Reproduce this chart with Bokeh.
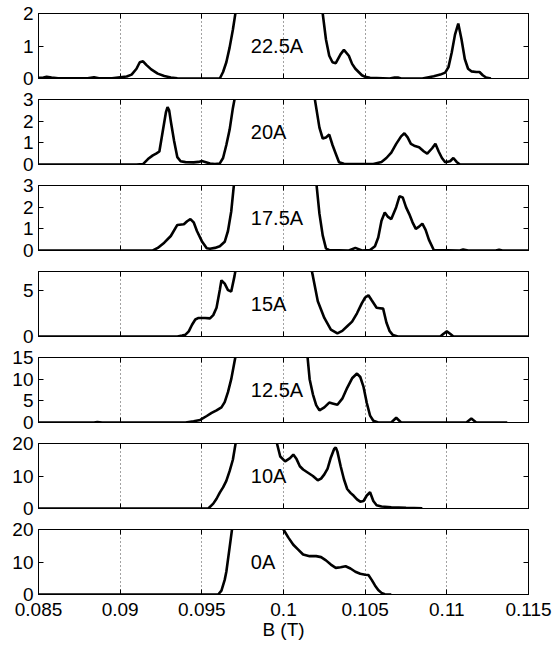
from bokeh.plotting import figure
from bokeh.layouts import column
from bokeh.models import FixedTicker, LinearAxis, Range1d, Grid
from bokeh.embed import file_html
from bokeh.resources import INLINE
from bokeh.core.properties import value

# ---------------- data ----------------
panel_labels = ["22.5A", "20A", "17.5A", "15A", "12.5A", "10A", "0A"]
panel_ymax = [2, 3, 3, 7, 15, 20, 20]
panel_yticks = [[0, 1, 2], [0, 1, 2, 3], [0, 1, 2, 3], [0, 5],
                [0, 5, 10, 15], [0, 10, 20], [0, 10, 20]]

xtick_vals = [0.085, 0.09, 0.095, 0.1, 0.105, 0.11, 0.115]
xtick_labels = ["0.085", "0.09", "0.095", "0.1", "0.105", "0.11", "0.115"]
grid_vals = [0.09, 0.095, 0.1, 0.105, 0.11]
x_label = "B (T)"

x_225 = [0.0850, 0.0853, 0.0855, 0.0858, 0.0862, 0.0880, 0.0884, 0.0887, 0.0895, 0.0900,
         0.0904, 0.0907, 0.0910, 0.0912, 0.0914, 0.0916, 0.0919, 0.0923, 0.0927, 0.0931,
         0.0935, 0.0950, 0.0961, 0.0963, 0.0965, 0.0967, 0.0969, 0.0971, 0.0974, 0.0980,
         0.0990, 0.1000, 0.1010, 0.1018, 0.1021, 0.1024, 0.1026, 0.1028, 0.1030, 0.1032,
         0.1035, 0.1037, 0.1040, 0.1042, 0.1044, 0.1046, 0.1048, 0.1050, 0.1053, 0.1065,
         0.1068, 0.1070, 0.1072, 0.1085, 0.1092, 0.1096, 0.1099, 0.1101, 0.1103, 0.1105,
         0.1107, 0.1109, 0.1111, 0.1113, 0.1115, 0.1118, 0.1120, 0.1122, 0.1124, 0.1127]
y_225 = [0.02, 0.03, 0.05, 0.03, 0.01, 0.01, 0.04, 0.01, 0.01, 0.04,
         0.06, 0.12, 0.30, 0.50, 0.53, 0.42, 0.28, 0.15, 0.08, 0.03,
         0.01, 0.0, 0.0, 0.2, 0.5, 0.95, 1.5, 2.15, 3.3, 6,
         12, 14, 10, 4.0, 2.7, 2.0, 1.2, 0.7, 0.5, 0.47,
         0.75, 0.88, 0.7, 0.45, 0.3, 0.2, 0.1, 0.05, 0.02, 0.0,
         0.03, 0.03, 0.0, 0.0, 0.07, 0.12, 0.18, 0.35, 0.8, 1.35,
         1.69, 1.2, 0.6, 0.3, 0.22, 0.2, 0.2, 0.1, 0.03, 0.0]

x_20 = [0.0850, 0.0910, 0.0914, 0.0917, 0.0920, 0.0922, 0.0924, 0.0926, 0.0928, 0.0929,
        0.0930, 0.0931, 0.0933, 0.0935, 0.0937, 0.0940, 0.0945, 0.0948, 0.0950, 0.0952,
        0.0955, 0.0958, 0.0961, 0.0963, 0.0965, 0.0967, 0.0969, 0.0972, 0.0980, 0.0990,
        0.1000, 0.1010, 0.1016, 0.1019, 0.1022, 0.1024, 0.1026, 0.1028, 0.1030, 0.1032,
        0.1034, 0.1037, 0.1045, 0.1055, 0.1060, 0.1063, 0.1066, 0.1069, 0.1072, 0.1074,
        0.1076, 0.1078, 0.1080, 0.1083, 0.1086, 0.1088, 0.1091, 0.1093, 0.1095, 0.1097,
        0.1099, 0.1102, 0.1104, 0.1106, 0.1108, 0.1115, 0.1150]
y_20 = [0, 0, 0.02, 0.25, 0.42, 0.5, 0.6, 1.5, 2.4, 2.65,
        2.5, 2.0, 1.1, 0.34, 0.15, 0.11, 0.10, 0.12, 0.16, 0.12,
        0.05, 0.02, 0.05, 0.3, 0.9, 1.6, 2.6, 3.8, 8, 12,
        12, 8, 4.5, 3.1, 1.7, 1.2, 1.25, 1.38, 0.9, 0.5,
        0.1, 0.03, 0.02, 0.02, 0.12, 0.3, 0.55, 0.95, 1.3, 1.44,
        1.25, 0.95, 0.87, 0.8, 0.6, 0.5, 0.75, 0.96, 0.6, 0.3,
        0.1, 0.15, 0.3, 0.12, 0.0, 0.0, 0.0]

x_175 = [0.0850, 0.0920, 0.0923, 0.0927, 0.0931, 0.0935, 0.0939, 0.0941, 0.0943, 0.0945,
         0.0947, 0.0950, 0.0953, 0.0955, 0.0958, 0.0961, 0.0964, 0.0966, 0.0968, 0.0970,
         0.0973, 0.0980, 0.0990, 0.1000, 0.1010, 0.1018, 0.1020, 0.1022, 0.1024, 0.1026,
         0.1028, 0.1040, 0.1044, 0.1048, 0.1053, 0.1056, 0.1058, 0.1060, 0.1062, 0.1064,
         0.1066, 0.1069, 0.1071, 0.1073, 0.1075, 0.1077, 0.1079, 0.1081, 0.1083, 0.1085,
         0.1087, 0.1089, 0.1092, 0.1108, 0.1110, 0.1113, 0.1130, 0.1132, 0.1134, 0.1150]
y_175 = [0, 0, 0.12, 0.36, 0.67, 1.18, 1.21, 1.35, 1.45, 1.3,
         0.9, 0.43, 0.1, 0.08, 0.12, 0.2, 0.4, 0.9, 1.8, 3.3,
         5.0, 9, 12, 12, 10, 5, 3.2, 1.7, 0.7, 0.1,
         0.02, 0.0, 0.12, 0.0, 0.02, 0.2, 0.6, 1.37, 1.75, 1.55,
         1.45, 2.0, 2.5, 2.45, 2.0, 1.68, 1.3, 1.0, 1.1, 1.24,
         0.95, 0.5, 0.02, 0.0, 0.05, 0.0, 0.0, 0.04, 0.0, 0.0]

x_15 = [0.0850, 0.0935, 0.0938, 0.0940, 0.0942, 0.0944, 0.0946, 0.0948, 0.0952, 0.0955,
        0.0957, 0.0959, 0.0961, 0.0962, 0.0964, 0.0966, 0.0968, 0.0970, 0.0972, 0.0980,
        0.0990, 0.1000, 0.1010, 0.1015, 0.1018, 0.1021, 0.1025, 0.1029, 0.1033, 0.1036,
        0.1039, 0.1042, 0.1045, 0.1048, 0.1050, 0.1052, 0.1054, 0.1057, 0.1059, 0.1061,
        0.1063, 0.1065, 0.1067, 0.1070, 0.1096, 0.1098, 0.1100, 0.1102, 0.1104, 0.1150]
y_15 = [0, 0, 0.1, 0.2, 0.55, 1.27, 1.83, 2.0, 2.0, 1.95,
        2.3, 3.1, 5.0, 6.05, 5.7, 5.0, 4.85, 6.5, 8.5, 14,
        25, 25, 15, 9, 6.5, 3.8, 2.0, 0.75, 0.33, 0.6,
        1.1, 1.6, 2.5, 3.6, 4.2, 4.44, 3.9, 3.1, 3.05, 3.0,
        1.5, 0.57, 0.15, 0.0, 0.0, 0.3, 0.55, 0.3, 0.0, 0.0]

x_125 = [0.0850, 0.0884, 0.0886, 0.0889, 0.0940, 0.0945, 0.0949, 0.0953, 0.0956, 0.0959,
         0.0962, 0.0964, 0.0966, 0.0968, 0.0970, 0.0973, 0.0980, 0.0990, 0.1000, 0.1010,
         0.1014, 0.1016, 0.1018, 0.1020, 0.1022, 0.1025, 0.1028, 0.1030, 0.1033, 0.1036,
         0.1039, 0.1042, 0.1045, 0.1047, 0.1049, 0.1051, 0.1053, 0.1055, 0.1058, 0.1066,
         0.1069, 0.1072, 0.1080, 0.1112, 0.1115, 0.1118, 0.1137]
y_125 = [0, 0, 0.12, 0, 0, 0.3, 0.6, 1.5, 2.2, 2.8,
         3.5, 4.7, 7.0, 10, 14, 20, 40, 60, 60, 40,
         18, 10, 6.5, 4.0, 2.8, 3.5, 4.6, 4.4, 4.1, 5.5,
         8.0, 10.2, 11.3, 10.5, 8.2, 4.5, 1.6, 0.4, 0.0, 0.0,
         1.1, 0.0, 0.0, 0.0, 0.9, 0.0, 0.0]

x_10 = [0.0850, 0.0954, 0.0957, 0.0959, 0.0961, 0.0963, 0.0965, 0.0967, 0.0969, 0.0971,
        0.0975, 0.0985, 0.0994, 0.0996, 0.0998, 0.1001, 0.1004, 0.1006, 0.1008, 0.1010,
        0.1012, 0.1015, 0.1018, 0.1021, 0.1023, 0.1025, 0.1027, 0.1029, 0.1031, 0.1032,
        0.1033, 0.1035, 0.1037, 0.1039, 0.1041, 0.1043, 0.1045, 0.1047, 0.1049, 0.1051,
        0.1053, 0.1055, 0.1057, 0.1060, 0.1066, 0.1075, 0.1085]
y_10 = [0, 0, 1.5, 3.0, 4.9, 6.5, 8.5, 11.5, 15, 21,
        40, 60, 30, 20, 16, 14.5, 15.5, 16.6, 15.2, 13.0,
        12.0, 11.0, 10.0, 8.7, 9.2, 10.5, 12.3, 15.7, 18.3, 18.8,
        17.5, 13, 9.0, 6.0, 4.8, 3.9, 2.8, 2.1, 2.3, 4.0,
        5.0, 2.3, 1.0, 0.6, 0.4, 0.2, 0.1]

x_0 = [0.0850, 0.0960, 0.0962, 0.0964, 0.0965, 0.0967, 0.0969, 0.0972, 0.0980, 0.0990,
       0.0998, 0.1000, 0.1003, 0.1006, 0.1009, 0.1012, 0.1016, 0.1020, 0.1023, 0.1026,
       0.1029, 0.1032, 0.1035, 0.1038, 0.1041, 0.1044, 0.1047, 0.1050, 0.1052, 0.1054,
       0.1056, 0.1058, 0.1060, 0.1062, 0.1064, 0.1066]
y_0 = [0, 0, 1.2, 4.5, 7.0, 14.4, 22, 35, 60, 60,
       25, 20, 17.5, 15.3, 13.8, 12.3, 11.8, 11.8, 11.5, 10.5,
       9.2, 8.2, 8.4, 8.7, 8.0, 7.0, 6.4, 6.1, 6.0, 4.5,
       2.8, 1.4, 0.5, 0.1, 0.0, 0.0]

series_x = [x_225, x_20, x_175, x_15, x_125, x_10, x_0]
series_y = [y_225, y_20, y_175, y_15, y_125, y_10, y_0]

# ---------------- layout ----------------
FONT = "Liberation Sans"
W = 557
LEFT, RIGHT = 38, 29
FRAME_H = 65
x_range = Range1d(0.085, 0.115)
label_x = 0.0980

figs = []
n = len(panel_labels)
used = 0
for i in range(n):
    last = (i == n - 1)
    top_border = 13 if i == 0 else 10
    bottom_border = (645 - used - top_border - FRAME_H) if last else 11
    h = top_border + FRAME_H + bottom_border
    used += h
    p = figure(width=W, height=h, x_range=x_range,
               y_range=Range1d(0, panel_ymax[i]),
               x_axis_location=None, y_axis_location=None,
               output_backend="svg", toolbar_location=None,
               min_border_left=LEFT, min_border_right=RIGHT,
               min_border_top=top_border, min_border_bottom=bottom_border)
    # drop the default grids
    p.center = [c for c in p.center if not isinstance(c, Grid)]
    p.outline_line_color = "black"
    p.outline_line_width = 1
    p.outline_line_alpha = 1
    p.background_fill_color = "white"
    p.border_fill_color = "white"

    # dotted vertical grid
    p.add_layout(Grid(dimension=0, ticker=FixedTicker(ticks=grid_vals),
                      grid_line_color="#444444", grid_line_dash="1 3",
                      grid_line_width=1))

    def mk_axis(ticker_vals, show_labels):
        ax = LinearAxis(ticker=FixedTicker(ticks=ticker_vals),
                        major_tick_in=5, major_tick_out=0,
                        minor_tick_line_color=None,
                        axis_line_color="black",
                        major_tick_line_color="black")
        if show_labels:
            ax.major_label_text_font = FONT
            ax.major_label_text_font_size = "19px"
            ax.major_label_text_color = "black"
        else:
            ax.major_label_text_font_size = "1px"
            ax.major_label_text_color = None
            ax.major_label_standoff = 0
        return ax

    left = mk_axis(panel_yticks[i], True)
    left.major_label_standoff = 5
    p.add_layout(left, "left")
    p.add_layout(mk_axis(panel_yticks[i], False), "right")
    p.add_layout(mk_axis(xtick_vals, False), "above")
    bottom = mk_axis(xtick_vals, last)
    if last:
        bottom.major_label_overrides = dict(zip(xtick_vals, xtick_labels))
        bottom.major_label_standoff = 8
        bottom.axis_label = x_label
        bottom.axis_label_text_font = FONT
        bottom.axis_label_text_font_size = "19px"
        bottom.axis_label_text_font_style = "normal"
        bottom.axis_label_text_color = "black"
        bottom.axis_label_standoff = 0
    p.add_layout(bottom, "below")

    p.line(series_x[i], series_y[i], line_color="black", line_width=2.6)
    p.text(x=[label_x], y=[panel_ymax[i] / 2], text=[panel_labels[i]],
           text_font=value(FONT), text_font_size="20px",
           text_baseline="middle", text_align="left", text_color="black")
    figs.append(p)

layout = column(*figs, spacing=0)
open("out.html", "w").write(file_html(layout, INLINE))
